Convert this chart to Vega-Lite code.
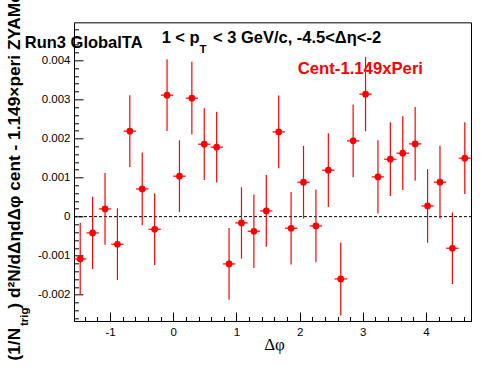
{
  "$schema": "https://vega.github.io/schema/vega-lite/v6.json",
  "autosize": {"type": "none"},
  "padding": {"left": 74, "top": 22.33, "right": 25, "bottom": 52.67},
  "width": 397,
  "height": 298.67,
  "background": "white",
  "config": {
    "view": {"stroke": "black", "strokeWidth": 1},
    "font": "Liberation Sans",
    "axis": {
      "labelOverlap": false, "labelFlush": false, "labelBound": false,
      "grid": false, "tickColor": "black", "tickWidth": 1,
      "domainColor": "black", "domainWidth": 1,
      "labelFont": "Liberation Sans", "labelFontSize": 11.5, "labelColor": "black",
      "titleColor": "black"
    }
  },
  "datasets": {
    "pts": [
      {"x": -1.4726, "v": -0.001083, "err": 0.000926, "xerr": 0.0982},
      {"x": -1.2763, "v": -0.000417, "err": 0.000926, "xerr": 0.0982},
      {"x": -1.0799, "v": 0.000197, "err": 0.000918, "xerr": 0.0982},
      {"x": -0.8836, "v": -0.000707, "err": 0.000918, "xerr": 0.0982},
      {"x": -0.6872, "v": 0.002187, "err": 0.000918, "xerr": 0.0982},
      {"x": -0.4909, "v": 0.000709, "err": 0.00093, "xerr": 0.0982},
      {"x": -0.2945, "v": -0.000323, "err": 0.000918, "xerr": 0.0982},
      {"x": -0.0982, "v": 0.003109, "err": 0.00092, "xerr": 0.0982},
      {"x": 0.0982, "v": 0.001035, "err": 0.000918, "xerr": 0.0982},
      {"x": 0.2945, "v": 0.003032, "err": 0.00093, "xerr": 0.0982},
      {"x": 0.4909, "v": 0.001854, "err": 0.000918, "xerr": 0.0982},
      {"x": 0.6872, "v": 0.001777, "err": 0.000905, "xerr": 0.0982},
      {"x": 0.8836, "v": -0.001211, "err": 0.000918, "xerr": 0.0982},
      {"x": 1.0799, "v": -0.000161, "err": 0.000913, "xerr": 0.0982},
      {"x": 1.2763, "v": -0.000374, "err": 0.000939, "xerr": 0.0982},
      {"x": 1.4726, "v": 0.000146, "err": 0.000918, "xerr": 0.0982},
      {"x": 1.669, "v": 0.002169, "err": 0.00093, "xerr": 0.0982},
      {"x": 1.8653, "v": -0.000297, "err": 0.00093, "xerr": 0.0982},
      {"x": 2.0617, "v": 0.000881, "err": 0.00093, "xerr": 0.0982},
      {"x": 2.258, "v": -0.000238, "err": 0.00093, "xerr": 0.0982},
      {"x": 2.4544, "v": 0.001188, "err": 0.000943, "xerr": 0.0982},
      {"x": 2.6507, "v": -0.001595, "err": 0.000935, "xerr": 0.0982},
      {"x": 2.8471, "v": 0.001939, "err": 0.00093, "xerr": 0.0982},
      {"x": 3.0434, "v": 0.003134, "err": 0.00095, "xerr": 0.0982},
      {"x": 3.2398, "v": 0.001017, "err": 0.000935, "xerr": 0.0982},
      {"x": 3.4361, "v": 0.00147, "err": 0.000943, "xerr": 0.0982},
      {"x": 3.6325, "v": 0.001624, "err": 0.000943, "xerr": 0.0982},
      {"x": 3.8288, "v": 0.001862, "err": 0.000943, "xerr": 0.0982},
      {"x": 4.0252, "v": 0.000274, "err": 0.000943, "xerr": 0.0982},
      {"x": 4.2215, "v": 0.000881, "err": 0.00093, "xerr": 0.0982},
      {"x": 4.4179, "v": -0.000809, "err": 0.000913, "xerr": 0.0982},
      {"x": 4.6142, "v": 0.001496, "err": 0.000918, "xerr": 0.0982}
    ],
    "one": [{"k": 1}]
  },
  "layer": [
    {
      "data": {"name": "one"},
      "encoding": {
        "x": {
          "datum": 0, "type": "quantitative",
          "scale": {"domain": [-1.5708, 4.7124], "nice": false, "zero": false},
          "axis": {
            "values": [-1.4,-1.2,-1,-0.8,-0.6,-0.4,-0.2,0,0.2,0.4,0.6,0.8,1,1.2,1.4,1.6,1.8,2,2.2,2.4,2.6,2.8,3,3.2,3.4,3.6,3.8,4,4.2,4.4,4.6],
            "labelExpr": "abs(datum.value - round(datum.value)) < 0.001 ? '' + round(datum.value) : ''",
            "tickSize": {"condition": {"test": "abs(datum.value - round(datum.value)) < 0.001", "value": -9}, "value": -4.5},
            "labelPadding": 14.5,
            "title": "Δφ",
            "titleFont": "Liberation Serif", "titleFontSize": 17, "titleFontWeight": "normal",
            "titleX": 200, "titleY": 29, "titleBaseline": "alphabetic", "titleAlign": "center"
          }
        },
        "y": {
          "datum": 0, "type": "quantitative",
          "scale": {"domain": [-0.002671, 0.004973], "nice": false, "zero": false},
          "axis": {
            "values": [-0.0026,-0.0024,-0.0022,-0.002,-0.0018,-0.0016,-0.0014,-0.0012,-0.001,-0.0008,-0.0006,-0.0004,-0.0002,0,0.0002,0.0004,0.0006,0.0008,0.001,0.0012,0.0014,0.0016,0.0018,0.002,0.0022,0.0024,0.0026,0.0028,0.003,0.0032,0.0034,0.0036,0.0038,0.004,0.0042,0.0044,0.0046,0.0048],
            "labelExpr": "abs(datum.value*1000 - round(datum.value*1000)) < 0.01 ? '' + (round(datum.value*1000)/1000) : ''",
            "tickSize": {"condition": {"test": "abs(datum.value*1000 - round(datum.value*1000)) < 0.01", "value": -9}, "value": -4.5},
            "labelPadding": 13,
            "title": "(1/N\u00a0\u00a0\u00a0\u00a0) d²N/dΔηdΔφ cent - 1.149×peri ZYAMed",
            "titleFont": "Liberation Sans", "titleFontSize": 17.3, "titleFontWeight": "bold",
            "titleAngle": 270, "titleAlign": "left", "titleBaseline": "alphabetic",
            "titleX": -54.5, "titleY": 337.7, "titleLimit": 2000
          }
        }
      },
      "layer": [
        {
          "mark": {"type": "rule", "color": "black", "strokeWidth": 1, "strokeDash": [3, 2]},
          "encoding": {
            "x": {"datum": -1.5708, "type": "quantitative"},
            "x2": {"datum": 4.7124},
            "y": {"datum": 0, "type": "quantitative"}
          }
        },
        {
          "mark": {"type": "text", "align": "left", "baseline": "alphabetic", "angle": 270, "font": "Liberation Sans", "fontWeight": "bold", "fontSize": 11.5, "color": "black"},
          "encoding": {
            "x": {"datum": -2.303, "type": "quantitative"},
            "y": {"datum": -0.002798, "type": "quantitative"},
            "text": {"value": "trig"}
          }
        },
        {
          "mark": {"type": "text", "align": "left", "baseline": "alphabetic", "font": "Liberation Sans", "fontWeight": "bold", "fontSize": 16.5, "color": "black"},
          "encoding": {
            "x": {"datum": -2.35, "type": "quantitative"},
            "y": {"datum": 0.004323, "type": "quantitative"},
            "text": {"value": "Run3 GlobalTA"}
          }
        },
        {
          "mark": {"type": "text", "align": "left", "baseline": "alphabetic", "font": "Liberation Sans", "fontWeight": "bold", "fontSize": 16.5, "color": "black"},
          "encoding": {
            "x": {"datum": -0.184, "type": "quantitative"},
            "y": {"datum": 0.004451, "type": "quantitative"},
            "text": {"value": "1 < p"}
          }
        },
        {
          "mark": {"type": "text", "align": "left", "baseline": "alphabetic", "font": "Liberation Sans", "fontWeight": "bold", "fontSize": 11.5, "color": "black"},
          "encoding": {
            "x": {"datum": 0.415, "type": "quantitative"},
            "y": {"datum": 0.0042, "type": "quantitative"},
            "text": {"value": "T"}
          }
        },
        {
          "mark": {"type": "text", "align": "left", "baseline": "alphabetic", "font": "Liberation Sans", "fontWeight": "bold", "fontSize": 16.5, "color": "black"},
          "encoding": {
            "x": {"datum": 0.629, "type": "quantitative"},
            "y": {"datum": 0.004451, "type": "quantitative"},
            "text": {"value": "< 3 GeV/c, -4.5<Δη<-2"}
          }
        },
        {
          "mark": {"type": "text", "align": "left", "baseline": "alphabetic", "font": "Liberation Sans", "fontWeight": "bold", "fontSize": 16.7, "color": "#ff0000"},
          "encoding": {
            "x": {"datum": 1.971, "type": "quantitative"},
            "y": {"datum": 0.00365, "type": "quantitative"},
            "text": {"value": "Cent-1.149xPeri"}
          }
        }
      ]
    },
    {
      "data": {"name": "pts"},
      "encoding": {
        "x": {
          "field": "x", "type": "quantitative",
          "scale": {"domain": [-1.5708, 4.7124], "nice": false, "zero": false},
          "axis": {
            "values": [-1.4,-1.2,-1,-0.8,-0.6,-0.4,-0.2,0,0.2,0.4,0.6,0.8,1,1.2,1.4,1.6,1.8,2,2.2,2.4,2.6,2.8,3,3.2,3.4,3.6,3.8,4,4.2,4.4,4.6],
            "labelExpr": "abs(datum.value - round(datum.value)) < 0.001 ? '' + round(datum.value) : ''",
            "tickSize": {"condition": {"test": "abs(datum.value - round(datum.value)) < 0.001", "value": -9}, "value": -4.5},
            "labelPadding": 14.5,
            "title": "Δφ",
            "titleFont": "Liberation Serif", "titleFontSize": 17, "titleFontWeight": "normal",
            "titleX": 200, "titleY": 29, "titleBaseline": "alphabetic", "titleAlign": "center"
          }
        },
        "y": {
          "field": "v", "type": "quantitative",
          "scale": {"domain": [-0.002671, 0.004973], "nice": false, "zero": false},
          "axis": {
            "values": [-0.0026,-0.0024,-0.0022,-0.002,-0.0018,-0.0016,-0.0014,-0.0012,-0.001,-0.0008,-0.0006,-0.0004,-0.0002,0,0.0002,0.0004,0.0006,0.0008,0.001,0.0012,0.0014,0.0016,0.0018,0.002,0.0022,0.0024,0.0026,0.0028,0.003,0.0032,0.0034,0.0036,0.0038,0.004,0.0042,0.0044,0.0046,0.0048],
            "labelExpr": "abs(datum.value*1000 - round(datum.value*1000)) < 0.01 ? '' + (round(datum.value*1000)/1000) : ''",
            "tickSize": {"condition": {"test": "abs(datum.value*1000 - round(datum.value*1000)) < 0.01", "value": -9}, "value": -4.5},
            "labelPadding": 13,
            "title": "(1/N\u00a0\u00a0\u00a0\u00a0) d²N/dΔηdΔφ cent - 1.149×peri ZYAMed",
            "titleFont": "Liberation Sans", "titleFontSize": 17.3, "titleFontWeight": "bold",
            "titleAngle": 270, "titleAlign": "left", "titleBaseline": "alphabetic",
            "titleX": -54.5, "titleY": 337.7, "titleLimit": 2000
          }
        }
      },
      "layer": [
        {
          "mark": {"type": "errorbar", "color": "#ff0000", "thickness": 1.2},
          "encoding": {"yError": {"field": "err"}}
        },
        {
          "mark": {"type": "errorbar", "color": "#ff0000", "thickness": 1.2},
          "encoding": {"xError": {"field": "xerr"}}
        },
        {
          "mark": {"type": "point", "filled": true, "shape": "circle", "size": 45, "color": "#ff0000", "opacity": 1}
        }
      ]
    }
  ]
}
